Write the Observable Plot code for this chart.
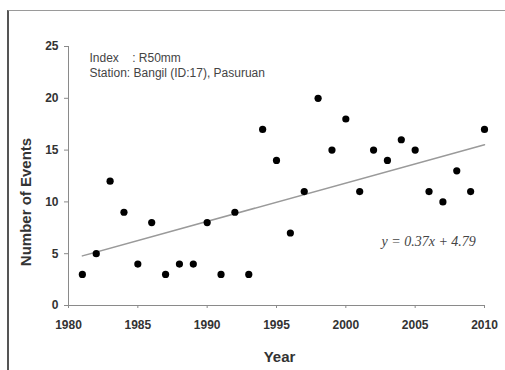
<!DOCTYPE html>
<html>
<head>
<meta charset="utf-8">
<script src="https://cdn.jsdelivr.net/npm/d3@7"></script>
<script src="https://cdn.jsdelivr.net/npm/@observablehq/plot@0.6"></script>
<style>
  html, body { margin: 0; padding: 0; background: #fff; overflow: hidden; width: 505px; height: 370px; }
  #frame { position: absolute; left: 7px; top: 10px; width: 600px; height: 400px;
           border-top: 1px solid #9a9a9a; border-left: 2px solid #555; }
  #chart { position: absolute; left: 0; top: 0; }
</style>
</head>
<body>
<div id="frame"></div>
<div id="chart"></div>
<script>
const years  = [1981,1982,1983,1984,1985,1986,1987,1988,1989,1990,1991,1992,1993,1994,1995,1996,1997,1998,1999,2000,2001,2002,2003,2004,2005,2006,2007,2008,2009,2010];
const events = [3,5,12,9,4,8,3,4,4,8,3,9,3,17,14,7,11,20,15,18,11,15,14,16,15,11,10,13,11,17];
const xTicks = [1980,1985,1990,1995,2000,2005,2010];
const yTicks = [0,5,10,15,20,25];
const slope = 0.37, intercept = 4.79;
const equationLabel = "y = 0.37x + 4.79";
const infoLines = ["Index    : R50mm", "Station: Bangil (ID:17), Pasuruan"];
const xTitle = "Year";
const yTitle = "Number of Events";

const data = years.map((y, i) => ({year: y, value: events[i]}));
const trend = [years[0], years[years.length - 1]].map(y => ({year: y, value: intercept + slope * (y - years[0])}));

const plot = Plot.plot({
  width: 505,
  height: 370,
  marginLeft: 68,
  marginRight: 21,
  marginTop: 46,
  marginBottom: 65,
  style: {fontFamily: "'Liberation Sans', Arial, sans-serif", background: "transparent"},
  x: {domain: [1980, 2010]},
  y: {domain: [0, 25]},
  marks: [
    Plot.ruleY([0], {stroke: "#8a8a8a", strokeWidth: 1}),
    Plot.ruleX([1980], {stroke: "#8a8a8a", strokeWidth: 1}),
    Plot.axisX({ticks: xTicks, tickFormat: d => String(d), tickSize: 3, tickPadding: 12,
      stroke: "#8a8a8a", fill: "#333", fontSize: 12, fontWeight: "bold", label: null}),
    Plot.axisY({ticks: yTicks, tickSize: 4, tickPadding: 6,
      stroke: "#8a8a8a", fill: "#333", fontSize: 12, fontWeight: "bold", label: null}),
    Plot.text([xTitle], {frameAnchor: "bottom", dx: 3, dy: 56, fontSize: 15, fontWeight: "bold", fill: "#333"}),
    Plot.text([yTitle], {frameAnchor: "left", dx: -42, dy: 26, rotate: -90, textAnchor: "middle", fontSize: 15, fontWeight: "bold", fill: "#333"}),
    Plot.line(trend, {x: "year", y: "value", stroke: "#9a9a9a", strokeWidth: 1.5}),
    Plot.dot(data, {x: "year", y: "value", r: 3.6, fill: "#000", stroke: "none"}),
    Plot.text([equationLabel], {frameAnchor: "top-left", dx: 313, dy: 190, fontFamily: "'Liberation Serif', 'Times New Roman', serif",
      fontStyle: "italic", fontSize: 14, fill: "#444", textAnchor: "start", ariaLabel: "equation"}),
    Plot.text([infoLines.join("\n")], {frameAnchor: "top-left", dx: 21, dy: 5, fontSize: 12, fill: "#444",
      textAnchor: "start", lineHeight: 1.25, ariaLabel: "info"})
  ]
});
d3.select(plot).selectAll("g[aria-label='info'] text").style("letter-spacing", "-0.55px");
d3.select(plot).selectAll("g[aria-label='equation'] text").style("letter-spacing", "-0.6px");
document.getElementById("chart").appendChild(plot);
</script>
</body>
</html>
